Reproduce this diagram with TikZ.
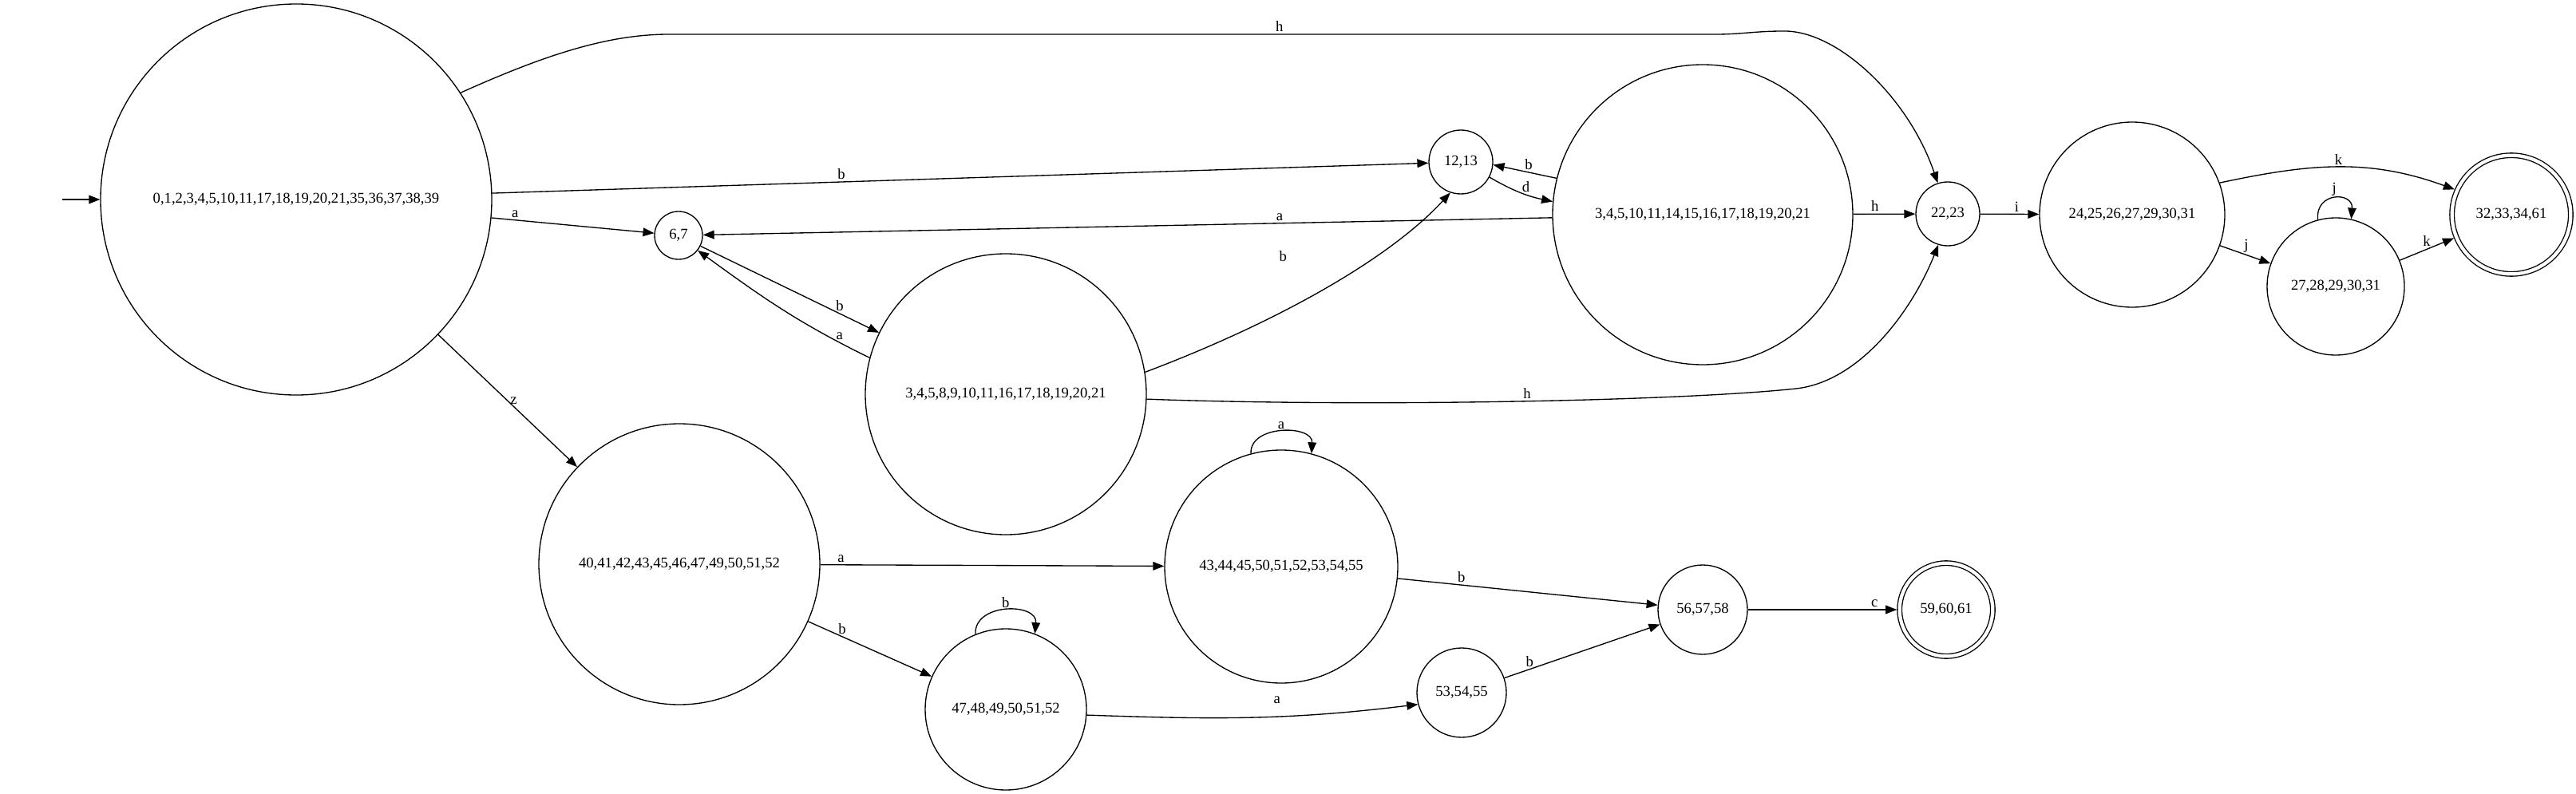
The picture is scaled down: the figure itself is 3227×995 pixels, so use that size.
\documentclass[tikz,border=0pt]{standalone}
\usepackage{fontspec}
\setmainfont{Liberation Serif}
\usetikzlibrary{arrows.meta}

\begin{document}
\begin{tikzpicture}[x=0.75pt,y=-0.75pt,font=\fontsize{14}{17}\selectfont]

	\tikzstyle{dstate}=[circle,draw=black,line width=1pt,inner sep=0pt]
	\tikzstyle{accept}=[dstate,double,double distance=3.2pt,outer sep=2.6pt]
	\tikzstyle{trans}=[-{Triangle[length=10.5pt,width=8pt]},line width=1pt]
	\tikzstyle{lbl}=[inner sep=2pt]

	\useasboundingbox (0,0) rectangle (3227,995);

	% states
	\node[dstate,minimum size=367.5pt]	(s0)	at (371,250)	{0,1,2,3,4,5,10,11,17,18,19,20,21,35,36,37,38,39};
	\node[dstate,minimum size=45pt]	(s67)	at (850,295)	{6,7};
	\node[dstate,minimum size=264pt]	(s2)	at (1260,494)	{3,4,5,8,9,10,11,16,17,18,19,20,21};
	\node[dstate,minimum size=60pt]	(s1213)	at (1830,203)	{12,13};
	\node[dstate,minimum size=282pt]	(s3)	at (2133,269)	{3,4,5,10,11,14,15,16,17,18,19,20,21};
	\node[dstate,minimum size=60pt]	(s2223)	at (2440,268)	{22,23};
	\node[dstate,minimum size=174pt]	(s24)	at (2671,269)	{24,25,26,27,29,30,31};
	\node[dstate,minimum size=129pt]	(s27)	at (2926,359)	{27,28,29,30,31};
	\node[accept,minimum size=111.5pt]	(s32)	at (3146,269)	{32,33,34,61};
	\node[dstate,minimum size=264pt]	(s40)	at (851,707)	{40,41,42,43,45,46,47,49,50,51,52};
	\node[dstate,minimum size=219pt]	(s43)	at (1605,710)	{43,44,45,50,51,52,53,54,55};
	\node[dstate,minimum size=151.5pt]	(s47)	at (1260,889)	{47,48,49,50,51,52};
	\node[dstate,minimum size=84pt]	(s53)	at (1831,868)	{53,54,55};
	\node[dstate,minimum size=84pt]	(s56)	at (2133,764)	{56,57,58};
	\node[accept,minimum size=87.5pt]	(s59)	at (2438,764)	{59,60,61};

	% transitions
	\coordinate (start) at (78,250);
	\draw[trans] (start) -- (s0);

	\draw[trans] (s0.33) .. controls (680,70) and (760,43) .. (838,43) -- (2150,43) node[lbl,above,pos=0.583]{h}
		.. controls (2180,43) and (2200,39) .. (2233,39) .. controls (2300,37) and (2390,120) .. (s2223.108);
	\draw[trans] (s0) -- node[lbl,above,pos=0.373]{b} (s1213);
	\draw[trans] (s0) -- node[lbl,above,pos=0.146]{a} (s67);
	\draw[trans] (s0) -- node[lbl,right,pos=0.5]{z} (s40);

	\draw[trans] (s67) -- node[lbl,above,pos=0.78]{b} (s2);
	\draw[trans] (s2.165) to[out=154,in=-36] node[lbl,above,pos=0.15]{a} (s67.-38);
	\draw[trans] (s2.9) .. controls (1610,400) and (1745,320) .. (s1213.-109) node[lbl,pos=0.36,yshift=52pt]{b};
	\draw[trans] (s2.-2) .. controls (1700,510) and (2100,503) .. (2250,487) node[lbl,above,pos=0.53]{h}
		.. controls (2330,478) and (2395,390) .. (s2223.-107);

	\draw[trans] (s3) -- node[lbl,above,pos=0.321]{a} (s67);
	\draw[trans] (s3.166) -- node[lbl,above,pos=0.44]{b} (s1213.-5);
	\draw[trans] (s1213.-28) to[out=-30,in=168] node[lbl,above,pos=0.6]{d} (s3.175);
	\draw[trans] (s3) -- node[lbl,above,pos=0.35]{h} (s2223);

	\draw[trans] (s2223) -- node[lbl,above,pos=0.62]{i} (s24);
	\draw[trans] (s24.20) to[out=12,in=160] node[lbl,above,pos=0.5]{k} (s32.156);
	\draw[trans] (s24) -- node[lbl,above,pos=0.52]{j} (s27);
	\draw[trans] (s27.105) .. controls (2900,240) and (2948,240) .. (s27.77) node[lbl,above,pos=0.5]{j};
	\draw[trans] (s27) -- node[lbl,above,pos=0.5]{k} (s32);

	\draw[trans] (s40) -- node[lbl,above,pos=0.06]{a} (s43);
	\draw[trans] (s40) -- node[lbl,above,pos=0.276]{b} (s47);
	\draw[trans] (s43.105) .. controls (1565,532) and (1645,532) .. (s43.75) node[lbl,above,pos=0.5]{a};
	\draw[trans] (s47.112) .. controls (1220,755) and (1300,755) .. (s47.69) node[lbl,above,pos=0.5]{b};
	\draw[trans] (s43) -- node[lbl,above,pos=0.245]{b} (s56);
	\draw[trans] (s47.-4) to[out=-2,in=187] node[lbl,above,pos=0.58,yshift=10pt]{a} (s53.195);
	\draw[trans] (s53) -- node[lbl,above,pos=0.163]{b} (s56);
	\draw[trans] (s56) -- node[lbl,above,pos=0.85]{c} (s59);

\end{tikzpicture}
\end{document}
